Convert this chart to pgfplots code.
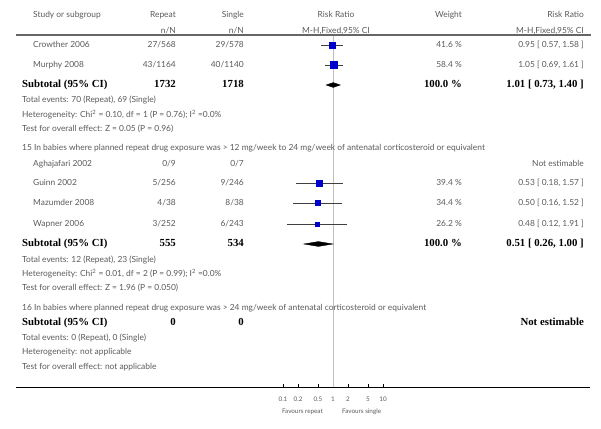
\documentclass[border=0pt]{standalone}
\usepackage{fontspec}
\setmainfont{Lato}
\newfontfamily\serifb{Liberation Serif}
\usepackage{pgfplots}
\pgfplotsset{compat=1.18}
\definecolor{txt}{RGB}{90,90,90}
\definecolor{mk}{RGB}{0,0,204}
\tikzset{
  s/.style={font=\fontsize{8.4}{10}\selectfont, text=txt, inner sep=0pt},
  f/.style={font=\fontsize{6.3}{7}\selectfont, text=txt, inner sep=0pt},
  b/.style={font=\serifb\bfseries\fontsize{10.8}{12}\selectfont, text=black, inner sep=0pt}
}
\begin{document}
\begin{tikzpicture}
\useasboundingbox (0,0) rectangle (601pt,428pt);
\begin{axis}[
  at={(16pt,41pt)}, anchor=south west,
  scale only axis, width=574pt, height=387pt,
  xmode=log, xmin=4.5709e-7, xmax=138038,
  ymin=-387, ymax=0,
  axis x line*=bottom, axis y line=none,
  xtick={0.1,0.2,0.5,1,2,5,10}, xticklabels={0.1,0.2,0.5,1,2,5,10},
  xminorticks=false,
  tick align=inside, major tick length=3pt,
  tick style={black, line width=0.5pt},
  xticklabel style={font=\fontsize{6.3}{7}\selectfont, text=txt, yshift=-6pt},
  /pgf/number format/assume math mode=true,
  axis line style={black, line width=0.7pt, -},
  clip=false,
]
% reference line
\addplot[gray!50, line width=0.6pt] coordinates {(1,-35) (1,-387)};
% confidence intervals
\addplot[black!75, line width=0.5pt] coordinates {(0.57,-45) (1.58,-45)};
\addplot[black!75, line width=0.5pt] coordinates {(0.69,-65) (1.61,-65)};
\addplot[black!75, line width=0.5pt] coordinates {(0.18,-183) (1.57,-183)};
\addplot[black!75, line width=0.5pt] coordinates {(0.16,-203) (1.52,-203)};
\addplot[black!75, line width=0.5pt] coordinates {(0.12,-224) (1.91,-224)};
% point estimates
\addplot[only marks, mark=square*, mark options={fill=mk, draw=mk}, mark size=2.9pt] coordinates {(0.95,-45)};
\addplot[only marks, mark=square*, mark options={fill=mk, draw=mk}, mark size=3.5pt] coordinates {(1.05,-65)};
\addplot[only marks, mark=square*, mark options={fill=mk, draw=mk}, mark size=2.9pt] coordinates {(0.53,-183)};
\addplot[only marks, mark=square*, mark options={fill=mk, draw=mk}, mark size=2.6pt] coordinates {(0.50,-203)};
\addplot[only marks, mark=square*, mark options={fill=mk, draw=mk}, mark size=2.2pt] coordinates {(0.48,-224)};
% diamonds
\addplot[fill=black, draw=black] coordinates {(0.73,-85) (1.01,-82.6) (1.40,-85) (1.01,-87.4)} -- cycle;
\addplot[fill=black, draw=black] coordinates {(0.26,-244) (0.51,-241.6) (1.00,-244) (0.51,-246.4)} -- cycle;
\end{axis}
\begin{scope}[shift={(0,428pt)}, x=1pt, y=-1pt]
\draw[black!60, line width=1.3pt] (16,35) -- (591,35);
% header
\node[s, anchor=mid west] at (33,15) {Study or subgroup};
\node[s, anchor=mid east] at (176,15) {Repeat};
\node[s, anchor=mid east] at (176,31) {n/N};
\node[s, anchor=mid east] at (244,15) {Single};
\node[s, anchor=mid east] at (244,31) {n/N};
\node[s, anchor=mid] at (336,15) {Risk Ratio};
\node[s, anchor=mid] at (336,31) {M-H,Fixed,95\% CI};
\node[s, anchor=mid east] at (462,15) {Weight};
\node[s, anchor=mid east] at (584,15) {Risk Ratio};
\node[s, anchor=mid east] at (584,31) {M-H,Fixed,95\% CI};
% group 1
\node[s, anchor=mid west] at (33,45) {Crowther 2006};
\node[s, anchor=mid east] at (176,45) {27/568};
\node[s, anchor=mid east] at (244,45) {29/578};
\node[s, anchor=mid east] at (462,45) {41.6 \%};
\node[s, anchor=mid east] at (584,45) {0.95 [ 0.57, 1.58 ]};
\node[s, anchor=mid west] at (33,65) {Murphy 2008};
\node[s, anchor=mid east] at (176,65) {43/1164};
\node[s, anchor=mid east] at (244,65) {40/1140};
\node[s, anchor=mid east] at (462,65) {58.4 \%};
\node[s, anchor=mid east] at (584,65) {1.05 [ 0.69, 1.61 ]};
\node[b, anchor=mid west] at (22,85) {Subtotal (95\% CI)};
\node[b, anchor=mid east] at (176,85) {1732};
\node[b, anchor=mid east] at (244,85) {1718};
\node[b, anchor=mid east] at (462,85) {100.0 \%};
\node[b, anchor=mid east] at (584,85) {1.01 [ 0.73, 1.40 ]};
\node[s, anchor=mid west] at (22,100) {Total events: 70 (Repeat), 69 (Single)};
\node[s, anchor=mid west] at (22,115) {Heterogeneity: Chi\textsuperscript{2} = 0.10, df = 1 (P = 0.76); I\textsuperscript{2} =0.0\%};
\node[s, anchor=mid west] at (22,129) {Test for overall effect: Z = 0.05 (P = 0.96)};
% group 2
\node[s, anchor=mid west] at (22,148) {15 In babies where planned repeat drug exposure was > 12 mg/week to 24 mg/week of antenatal corticosteroid or equivalent};
\node[s, anchor=mid west] at (33,164) {Aghajafari 2002};
\node[s, anchor=mid east] at (176,164) {0/9};
\node[s, anchor=mid east] at (244,164) {0/7};
\node[s, anchor=mid east] at (584,164) {Not estimable};
\node[s, anchor=mid west] at (33,183) {Guinn 2002};
\node[s, anchor=mid east] at (176,183) {5/256};
\node[s, anchor=mid east] at (244,183) {9/246};
\node[s, anchor=mid east] at (462,183) {39.4 \%};
\node[s, anchor=mid east] at (584,183) {0.53 [ 0.18, 1.57 ]};
\node[s, anchor=mid west] at (33,203) {Mazumder 2008};
\node[s, anchor=mid east] at (176,203) {4/38};
\node[s, anchor=mid east] at (244,203) {8/38};
\node[s, anchor=mid east] at (462,203) {34.4 \%};
\node[s, anchor=mid east] at (584,203) {0.50 [ 0.16, 1.52 ]};
\node[s, anchor=mid west] at (33,224) {Wapner 2006};
\node[s, anchor=mid east] at (176,224) {3/252};
\node[s, anchor=mid east] at (244,224) {6/243};
\node[s, anchor=mid east] at (462,224) {26.2 \%};
\node[s, anchor=mid east] at (584,224) {0.48 [ 0.12, 1.91 ]};
\node[b, anchor=mid west] at (22,244) {Subtotal (95\% CI)};
\node[b, anchor=mid east] at (176,244) {555};
\node[b, anchor=mid east] at (244,244) {534};
\node[b, anchor=mid east] at (462,244) {100.0 \%};
\node[b, anchor=mid east] at (584,244) {0.51 [ 0.26, 1.00 ]};
\node[s, anchor=mid west] at (22,260) {Total events: 12 (Repeat), 23 (Single)};
\node[s, anchor=mid west] at (22,274) {Heterogeneity: Chi\textsuperscript{2} = 0.01, df = 2 (P = 0.99); I\textsuperscript{2} =0.0\%};
\node[s, anchor=mid west] at (22,288) {Test for overall effect: Z = 1.96 (P = 0.050)};
% group 3
\node[s, anchor=mid west] at (22,308) {16 In babies where planned repeat drug exposure was > 24 mg/week of antenatal corticosteroid or equivalent};
\node[b, anchor=mid west] at (22,323) {Subtotal (95\% CI)};
\node[b, anchor=mid east] at (176,323) {0};
\node[b, anchor=mid east] at (244,323) {0};
\node[b, anchor=mid east] at (584,323) {Not estimable};
\node[s, anchor=mid west] at (22,338) {Total events: 0 (Repeat), 0 (Single)};
\node[s, anchor=mid west] at (22,352) {Heterogeneity: not applicable};
\node[s, anchor=mid west] at (22,367) {Test for overall effect: not applicable};
% favours
\node[f, anchor=mid east] at (323,411) {Favours repeat};
\node[f, anchor=mid west] at (342,411) {Favours single};
\end{scope}
\end{tikzpicture}
\end{document}
